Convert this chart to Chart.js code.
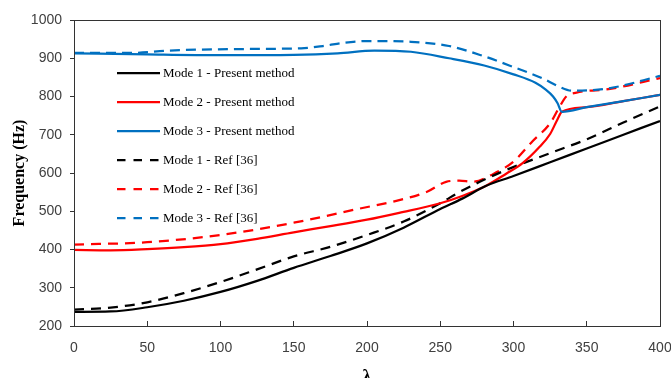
<!DOCTYPE html>
<html>
<head>
<meta charset="utf-8">
<script src="https://cdn.jsdelivr.net/npm/chart.js@4.4.1/dist/chart.umd.min.js"></script>
<style>
  html, body { margin: 0; padding: 0; background: #fff; overflow: hidden; }
  #wrap { position: relative; width: 671px; height: 400px; }
  #legend { position: absolute; left: 0; top: 0; font-family: "Liberation Serif", "Times New Roman", serif; font-size: 13px; color: #000; }
  .row { position: absolute; left: 117px; height: 16px; display: flex; align-items: center; white-space: nowrap; }
  .row svg { width: 43px; height: 6px; margin-right: 3px; display: block; }
</style>
</head>
<body>
<div id="wrap">
  <canvas id="c" width="671" height="400"></canvas>
  <div id="legend"></div>
</div>
<script>
// ---- data ----
const xTicks = [0, 50, 100, 150, 200, 250, 300, 350, 400];
const yTicks = [200, 300, 400, 500, 600, 700, 800, 900, 1000];

const lambdaMode1Present = [0, 25, 50, 75, 100, 125, 150, 175, 200, 225, 250, 265, 281, 300, 325, 350, 375, 400];
const freqMode1Present   = [237, 238, 249, 266, 289, 318, 352, 383, 416, 457, 506, 533, 566, 592, 628, 664, 700, 736];

const lambdaMode2Present = [0, 25, 50, 75, 100, 125, 150, 175, 200, 222, 250, 265, 281, 295, 306, 318, 325, 330, 333, 350, 375, 400];
const freqMode2Present   = [399, 398, 401, 406, 414, 428, 445, 461, 478, 496, 521, 540, 566, 598, 625, 669, 702, 740, 760, 772, 788, 804];

const lambdaMode3Present = [0, 50, 100, 150, 180, 205, 230, 256, 280, 300, 315, 322, 327, 330, 333, 350, 375, 400];
const freqMode3Present   = [913, 910, 908, 909, 913, 920, 917, 900, 881, 858, 836, 818, 800, 783, 760, 772, 788, 804];

const lambdaMode1Ref = [0, 25, 50, 75, 100, 125, 150, 175, 200, 225, 250, 263, 277, 295, 325, 350, 375, 400];
const freqMode1Ref   = [243, 248, 262, 286, 315, 348, 382, 407, 438, 473, 521, 550, 577, 608, 652, 688, 732, 774];

const lambdaMode2Ref = [0, 50, 100, 150, 195, 222, 241, 254, 263, 272, 286, 300, 313, 325, 331, 336, 343, 366, 400];
const freqMode2Ref   = [413, 419, 438, 470, 507, 529, 551, 577, 580, 577, 597, 630, 683, 730, 770, 800, 810, 820, 848];

const lambdaMode3Ref = [0, 40, 65, 110, 155, 170, 185, 200, 230, 256, 280, 300, 320, 331, 340, 366, 400];
const freqMode3Ref   = [914, 914, 920, 924, 926, 932, 941, 945, 943, 932, 905, 877, 847, 826, 815, 822, 854];

const seriesLabels = ["Mode 1 - Present method", "Mode 2 - Present method", "Mode 3 - Present method",
                      "Mode 1 - Ref [36]", "Mode 2 - Ref [36]", "Mode 3 - Ref [36]"];

// ---- styling ----
const BLACK = "#000000", RED = "#FF0000", BLUE = "#0070C0";
const DASH = [10, 7];
const toPts = (xs, ys) => xs.map((x, i) => ({ x: x, y: ys[i] }));

const series = [
  { label: seriesLabels[0], data: toPts(lambdaMode1Present, freqMode1Present), color: BLACK, dash: [], order: 2 },
  { label: seriesLabels[1], data: toPts(lambdaMode2Present, freqMode2Present), color: RED,   dash: [], order: 3 },
  { label: seriesLabels[2], data: toPts(lambdaMode3Present, freqMode3Present), color: BLUE,  dash: [], order: 1 },
  { label: seriesLabels[3], data: toPts(lambdaMode1Ref, freqMode1Ref),         color: BLACK, dash: DASH, order: 4 },
  { label: seriesLabels[4], data: toPts(lambdaMode2Ref, freqMode2Ref),         color: RED,   dash: DASH, order: 6 },
  { label: seriesLabels[5], data: toPts(lambdaMode3Ref, freqMode3Ref),         color: BLUE,  dash: [10, 6], order: 5 }
];

const datasets = series.map(s => ({
  label: s.label,
  data: s.data,
  borderColor: s.color,
  backgroundColor: s.color,
  borderWidth: 2.25,
  borderDash: s.dash,
  pointRadius: 0,
  fill: false,
  cubicInterpolationMode: "monotone",
  order: s.order
}));

const framePlugin = {
  id: "frame",
  afterDatasetsDraw(chart) {
    const a = chart.chartArea, ctx = chart.ctx;
    ctx.save();
    ctx.strokeStyle = "#333";
    ctx.lineWidth = 1;
    ctx.strokeRect(Math.round(a.left) + 0.5, Math.round(a.top) + 0.5, Math.round(a.right - a.left), Math.round(a.bottom - a.top));
    ctx.restore();
  }
};

const tickFont = { family: "'Liberation Sans', Arial, sans-serif", size: 14 };

new Chart(document.getElementById("c"), {
  type: "line",
  data: { datasets: datasets },
  plugins: [framePlugin],
  options: {
    responsive: false,
    animation: false,
    layout: { padding: { left: 0, right: 11, top: 20, bottom: 0 } },
    plugins: { legend: { display: false }, tooltip: { enabled: false } },
    scales: {
      x: {
        type: "linear",
        min: xTicks[0], max: xTicks[xTicks.length - 1],
        afterBuildTicks: s => { s.ticks = xTicks.map(v => ({ value: v })); },
        afterFit: s => { s.height = 74; s.paddingLeft = 0; s.paddingRight = 0; },
        ticks: { font: tickFont, color: "#404040", padding: 19, maxRotation: 0, callback: v => String(v) },
        grid: { drawOnChartArea: false, drawTicks: true, tickLength: -5, color: "#333" },
        border: { display: true, color: "#333", width: 1 },
        title: { display: true, text: "λ", color: "#000",
                 font: { family: "'Liberation Serif', 'Times New Roman', serif", size: 18, weight: "bold" },
                 padding: { top: 0, bottom: 12 } }
      },
      y: {
        type: "linear",
        min: yTicks[0], max: yTicks[yTicks.length - 1],
        afterBuildTicks: s => { s.ticks = yTicks.map(v => ({ value: v })); },
        afterFit: s => { s.width = 74; s.paddingTop = 0; s.paddingBottom = 0; },
        ticks: { font: tickFont, color: "#404040", padding: 8, callback: v => String(v) },
        grid: { drawOnChartArea: false, drawTicks: true, tickLength: 4, color: "#333" },
        border: { display: true, color: "#333", width: 1 },
        title: { display: true, text: "Frequency (Hz)", color: "#000",
                 font: { family: "'Liberation Serif', 'Times New Roman', serif", size: 16, weight: "bold" },
                 padding: { top: 10, bottom: 0 } }
      }
    }
  }
});

// ---- legend (HTML, real text) ----
const legendRowsY = [73, 102, 131, 160, 189, 218];
const legendEl = document.getElementById("legend");
series.forEach((s, i) => {
  const row = document.createElement("div");
  row.className = "row";
  row.style.top = (legendRowsY[i] - 8) + "px";
  const dashAttr = s.dash.length ? ' stroke-dasharray="8.5 8"' : '';
  row.innerHTML = '<svg viewBox="0 0 43 6"><line x1="0" y1="3" x2="43" y2="3" stroke="' + s.color +
                  '" stroke-width="2.25"' + dashAttr + '/></svg><span>' + s.label + '</span>';
  legendEl.appendChild(row);
});
</script>
</body>
</html>
